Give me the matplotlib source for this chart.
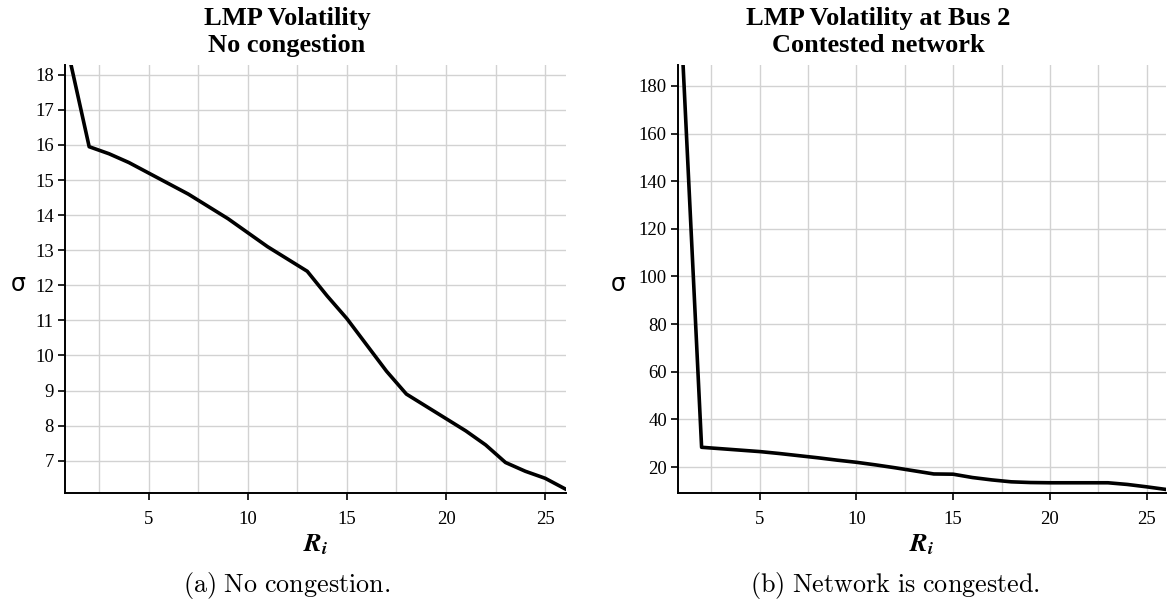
import matplotlib
matplotlib.use('Agg')
import matplotlib.pyplot as plt
import numpy as np

# bus count on x axis
R = list(range(1, 27))

# sigma, no congestion
sigma_a = [18.5, 15.95, 15.75, 15.5, 15.2, 14.9, 14.6, 14.25, 13.9, 13.5,
           13.1, 12.75, 12.4, 11.7, 11.05, 10.3, 9.55, 8.9, 8.55, 8.2,
           7.85, 7.45, 6.95, 6.7, 6.5, 6.2]

# sigma at bus 2, contested network
sigma_b = [196.0, 28.3, 27.7, 27.1, 26.5, 25.7, 24.8, 23.9, 22.9, 22.0,
           20.9, 19.7, 18.4, 17.1, 17.0, 15.6, 14.6, 13.8, 13.5, 13.4,
           13.4, 13.4, 13.4, 12.7, 11.7, 10.6]

xticks = [5, 10, 15, 20, 25]
xgrid = [2.5, 5, 7.5, 10, 12.5, 15, 17.5, 20, 22.5, 25]
yticks_a = list(range(7, 19))
yticks_b = [20, 40, 60, 80, 100, 120, 140, 160, 180]

titles = ['LMP Volatility\nNo congestion', 'LMP Volatility at Bus 2\nContested network']
captions = [r'$\mathrm{(a)\ No\ congestion.}$', r'$\mathrm{(b)\ Network\ is\ congested.}$']

plt.rcParams['font.family'] = ['Liberation Serif', 'DejaVu Serif']

fig = plt.figure(figsize=(11.73, 6.05), dpi=100)
ax_a = fig.add_axes([0.0554, 0.1851, 0.4271, 0.7075])
ax_b = fig.add_axes([0.578, 0.1851, 0.416, 0.7075])


def style(ax, y, yticks, ylim, xlim):
    ax.plot(R, y, color='black', lw=2.6, solid_joinstyle='round', zorder=3)
    ax.set_xlim(*xlim)
    ax.set_ylim(*ylim)
    ax.set_xticks(xticks)
    ax.set_yticks(yticks)
    for g in xgrid:
        ax.axvline(g, color='#d2d2d2', lw=1.0, zorder=1)
    for g in yticks:
        ax.axhline(g, color='#d2d2d2', lw=1.0, zorder=1)
    for s in ['top', 'right']:
        ax.spines[s].set_visible(False)
    for s in ['left', 'bottom']:
        ax.spines[s].set_linewidth(1.4)
    ax.tick_params(direction='out', length=5, width=1.2, labelsize=13.5)
    ax.tick_params(axis='y', pad=3)
    ax.tick_params(axis='x', pad=8)
    ax.set_xlabel(r'$\mathbfit{R}_{\mathbfit{i}}$', fontsize=19, math_fontfamily='stix', labelpad=3)


style(ax_a, sigma_a, yticks_a, (6.08, 18.28), (0.78, 26.05))
style(ax_b, sigma_b, yticks_b, (9.1, 188.8), (0.78, 26.0))

fig.text(0.0155, 0.53, 'σ', fontsize=17, ha='center', va='center', family='DejaVu Sans')
fig.text(0.527, 0.53, 'σ', fontsize=17, ha='center', va='center', family='DejaVu Sans')

fig.text(0.2447, 0.988, titles[0], fontsize=19, fontweight='bold', ha='center', va='top',
         linespacing=1.2)
fig.text(0.749, 0.988, titles[1], fontsize=19, fontweight='bold', ha='center', va='top',
         linespacing=1.2)

fig.text(0.2445, 0.033, captions[0], fontsize=18.8, ha='center', va='center', math_fontfamily='cm')
fig.text(0.763, 0.033, captions[1], fontsize=18.8, ha='center', va='center', math_fontfamily='cm')

plt.savefig('out.png', dpi=100)
